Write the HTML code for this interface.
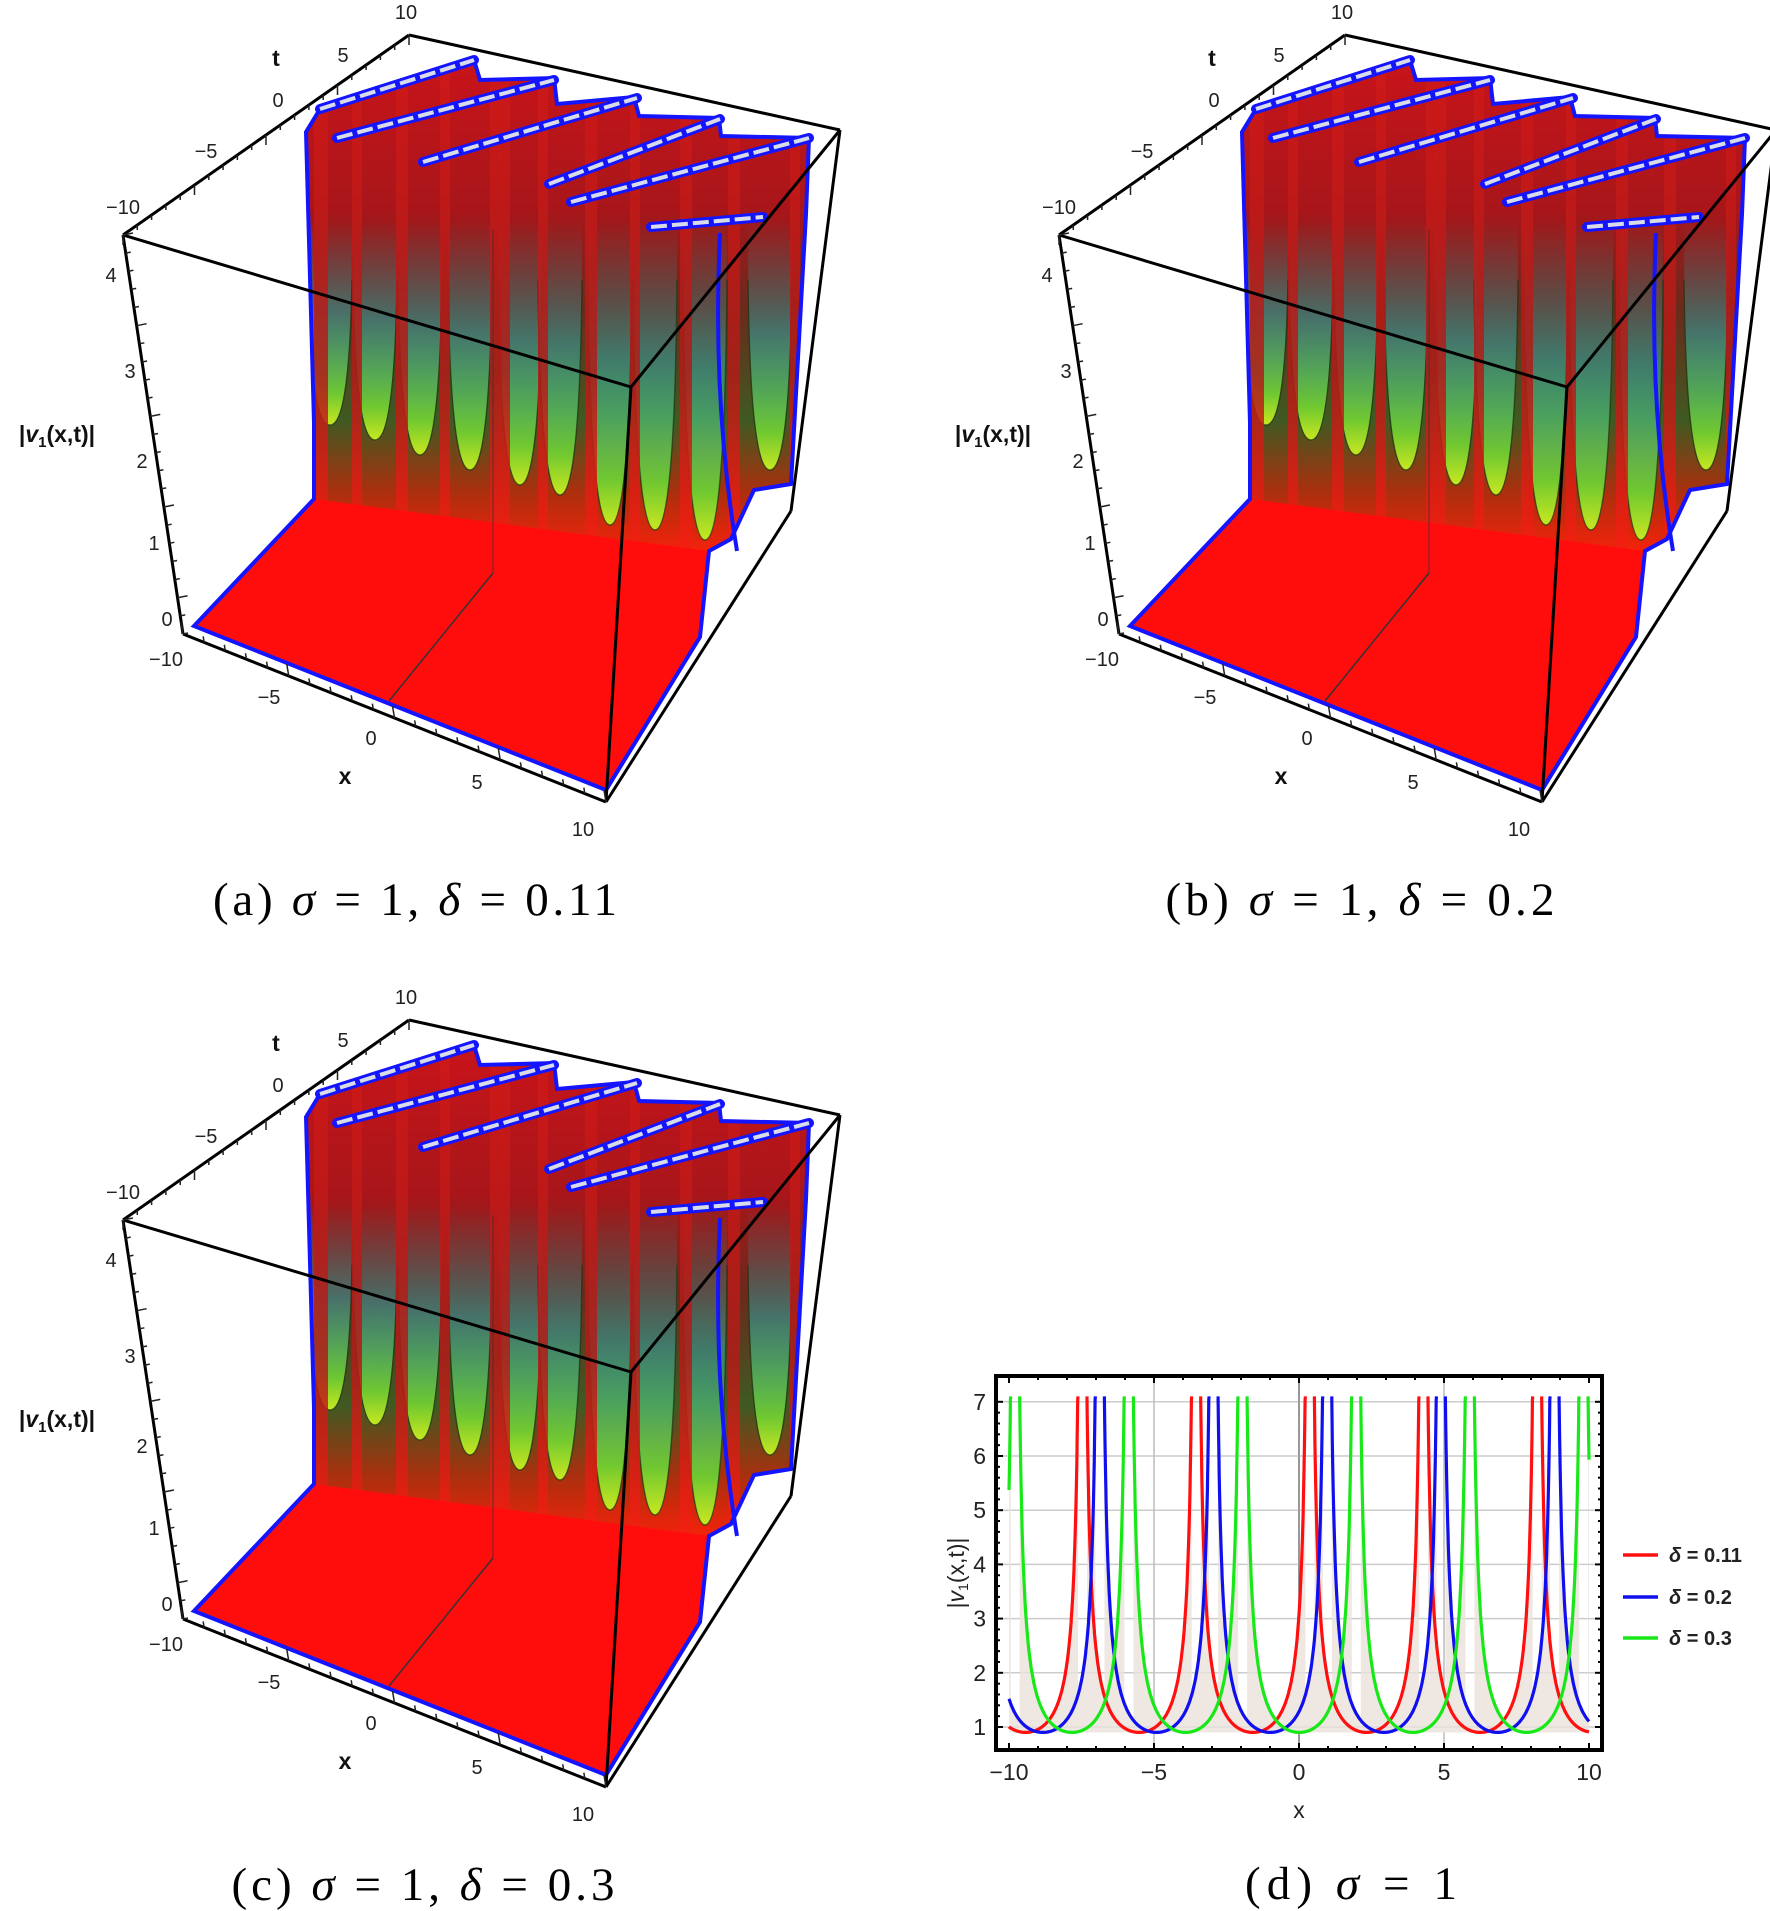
<!DOCTYPE html>
<html><head><meta charset="utf-8"><style>
html,body{margin:0;padding:0;background:#fff;}
svg{display:block;}
.lab{font-family:"Liberation Sans",sans-serif;font-size:20px;fill:#222;}
.bl{font-family:"Liberation Sans",sans-serif;font-size:23px;font-weight:bold;fill:#111;}
.cap{font-family:"Liberation Serif",serif;font-size:47px;fill:#000;}
.dl{font-family:"Liberation Sans",sans-serif;font-size:23px;fill:#222;}
.lg{font-family:"Liberation Sans",sans-serif;font-size:20px;font-weight:bold;fill:#222;}
</style></head><body>
<svg id="s" xmlns="http://www.w3.org/2000/svg" width="1770" height="1911" viewBox="0 0 1770 1911">
<defs>
<linearGradient id="wall" gradientUnits="userSpaceOnUse" x1="0" y1="60" x2="0" y2="560">
<stop offset="0" stop-color="#c8141a"/><stop offset="0.3" stop-color="#a8161a"/>
<stop offset="0.5" stop-color="#6a2a1c"/><stop offset="0.72" stop-color="#3f5a22"/>
<stop offset="0.86" stop-color="#a8300e"/><stop offset="1" stop-color="#ff200a"/>
</linearGradient>
<linearGradient id="ug" x1="0" y1="0" x2="0" y2="1">
<stop offset="0" stop-color="#3a8a9a" stop-opacity="0"/><stop offset="0.45" stop-color="#30a8a8" stop-opacity="0.55"/>
<stop offset="0.85" stop-color="#70c830"/><stop offset="1" stop-color="#c8e820"/>
</linearGradient>
<linearGradient id="pg" x1="0" y1="0" x2="0" y2="1">
<stop offset="0" stop-color="#d01818"/><stop offset="0.6" stop-color="#b01c18"/><stop offset="1" stop-color="#ff2010"/>
</linearGradient>
</defs>
</svg>
<script>
var S=document.getElementById('s'),NS='http://www.w3.org/2000/svg',out='';
function P(a){return a.map(function(p){return p[0]+','+p[1]}).join(' ');}
function panel(dx,dy,cap,cx,cw){
 var g='<g transform="translate('+dx+','+dy+')">';
 var A=[123,235],BT=[409,35],TR=[840,130],FT=[631,387],BF=[606,802],BL=[183,634],BR=[791,511];
 var mass=[[306,132],[320,109],[474,60],[480,80],[554,78],[557,104],[634,97],[639,116],[719,118],[721,136],[809,138],[806,214],[791,484],[754,490],[731,539],[709,551],[700,637],[606,790],[194,626],[314,499],[314,423]];
 g+='<clipPath id="c'+dx+'_'+dy+'"><polygon points="'+P(mass)+'"/></clipPath>';
 g+='<polygon points="'+P(mass)+'" fill="url(#wall)"/>';
 g+='<g clip-path="url(#c'+dx+'_'+dy+')">';
 [[330,425],[375,440],[420,455],[470,470],[520,485],[560,495],[610,525],[655,530],[705,540],[770,470]].forEach(function(u){
  var x=u[0],b=u[1];
  g+='<path d="M'+(x-22)+',220 Q'+(x-22)+','+b+' '+x+','+b+' Q'+(x+22)+','+b+' '+(x+22)+',220 Z" fill="url(#ug)"/>';
  g+='<path d="M'+(x-22)+',280 Q'+(x-20)+','+b+' '+x+','+b+' Q'+(x+20)+','+b+' '+(x+22)+',280" fill="none" stroke="#1e3a14" stroke-width="1.5" opacity="0.7"/>';
 });
 [[314,14],[352,10],[396,12],[440,10],[490,12],[500,10],[538,10],[585,12],[630,10],[680,12],[728,12],[790,10]].forEach(function(p){
  g+='<rect x="'+p[0]+'" y="60" width="'+p[1]+'" height="520" fill="url(#pg)" opacity="0.85"/>';
 });
 g+='</g>';
 g+='<polygon points="194,626 314,499 709,551 700,637 606,790" fill="#ff0d0d"/>';
 g+='<line x1="493" y1="573" x2="389" y2="701" stroke="#333" stroke-width="1.5"/>';
 g+='<line x1="493" y1="573" x2="493" y2="230" stroke="#333" stroke-width="1.2" opacity="0.6"/>';
 g+='<polygon points="'+P(mass)+'" fill="none" stroke="#1414ff" stroke-width="4"/>';
 [[[320,109],[474,60]],[[337,138],[554,80]],[[423,162],[637,98]],[[549,184],[720,119]],[[571,202],[809,138]],[[651,227],[763,217]]].forEach(function(r){
  g+='<line x1="'+r[0][0]+'" y1="'+r[0][1]+'" x2="'+r[1][0]+'" y2="'+r[1][1]+'" stroke="#1414ff" stroke-width="10" stroke-linecap="round"/>';
  g+='<line x1="'+r[0][0]+'" y1="'+r[0][1]+'" x2="'+r[1][0]+'" y2="'+r[1][1]+'" stroke="#d8dce8" stroke-width="4" stroke-dasharray="16 5"/>';
 });
 g+='<path d="M720,233 Q712,400 737,551" fill="none" stroke="#1414ff" stroke-width="4"/>';
 var L=function(a,b,w){return '<line x1="'+a[0]+'" y1="'+a[1]+'" x2="'+b[0]+'" y2="'+b[1]+'" stroke="#000" stroke-width="'+(w||3)+'"/>';};
 g+=L(A,BT)+L(BT,TR)+L(TR,FT)+L(A,FT)+L(FT,BF)+L(TR,BR)+L(BR,BF)+L(A,BL)+L(BL,BF);
 function ticks(a,b,n,ox,oy){var s='';for(var i=0;i<=n;i++){var t=i/n,x=a[0]+(b[0]-a[0])*t,y=a[1]+(b[1]-a[1])*t,l=(i%5==0)?2:1;
  s+='<line x1="'+x+'" y1="'+y+'" x2="'+(x+ox*l)+'" y2="'+(y+oy*l)+'" stroke="#222" stroke-width="1.5"/>';}return s;}
 g+=ticks(A,BT,20,0,5)+ticks(A,BL,22,5,-1)+ticks(BL,BF,20,-1,-6);
 g+='<g class="lab" text-anchor="middle">';
 [['-10',123,214],['-5',206,158],['0',278,107],['5',343,62],['10',406,19],['4',111,282],['3',130,378],['2',142,468],['1',154,550],['0',167,626],['-10',166,666],['-5',269,704],['0',371,745],['5',477,789],['10',583,836]].forEach(function(t){
  g+='<text x="'+t[1]+'" y="'+t[2]+'">'+t[0].replace('-','\u2212')+'</text>';});
 g+='</g>';
 g+='<text class="bl" x="276" y="66" text-anchor="middle">t</text>';
 g+='<text class="bl" x="345" y="784" text-anchor="middle">x</text>';
 g+='<text class="bl" x="57" y="442" text-anchor="middle">|<tspan font-style="italic">v</tspan><tspan font-size="15" dy="5">1</tspan><tspan dy="-5">(x,t)|</tspan></text>';
 g+='</g>';
 g+='<text class="cap" x="'+(cx-cw/2)+'" y="'+(dy+915)+'" textLength="'+cw+'" lengthAdjust="spacing">'+cap+'</text>';
 return g;
}
out+=panel(0,0,'(a) <tspan font-style="italic">σ</tspan> = 1,  <tspan font-style="italic">δ</tspan> = 0.11',415,404);
out+=panel(936,0,'(b) <tspan font-style="italic">σ</tspan> = 1,  <tspan font-style="italic">δ</tspan> = 0.2',1360,389);
out+=panel(0,985,'(c) <tspan font-style="italic">σ</tspan> = 1,  <tspan font-style="italic">δ</tspan> = 0.3',423,383);
function X(x){return 1009+(x+10)*29;}
function Y(y){return 1727-(y-1)*54.2;}
var d='';
d+='<rect x="996" y="1376" width="606" height="374" fill="#fff"/>';
for(var k=1;k<=7;k++)d+='<line x1="996" x2="1602" y1="'+Y(k)+'" y2="'+Y(k)+'" stroke="#ccc" stroke-width="1.5"/>';
[-5,5].forEach(function(v){d+='<line y1="1376" y2="1750" x1="'+X(v)+'" x2="'+X(v)+'" stroke="#bbb" stroke-width="1.5"/>';});
d+='<line y1="1376" y2="1750" x1="'+X(0)+'" x2="'+X(0)+'" stroke="#777" stroke-width="1.5"/>';
var ser=[['#ff1010',-7.47],['#1010ee',-6.87],['#18e818',-5.87]];
var fills='',lines='';
ser.forEach(function(s){
 var segs=[],cur=null;
 for(var x=-10;x<=10.0001;x+=0.01){
  var v=Math.abs(Math.sin(Math.PI*(x-s[1])/3.92)),y=v<1e-6?99:0.9/v;
  if(y>7.1){if(cur){cur.push([X(x),Y(7.1)]);segs.push(cur);cur=null;}}
  else{if(!cur){cur=[[X(x),Y(7.1)]];if(x<-9.99)cur=[];}cur.push([X(x),Y(y)]);}
 }
 if(cur)segs.push(cur);
 segs.forEach(function(sg){
  var pts=sg.map(function(p){return p[0].toFixed(1)+','+p[1].toFixed(1)}).join(' ');
  fills+='<polygon points="'+sg[0][0].toFixed(1)+','+Y(0.9)+' '+pts+' '+sg[sg.length-1][0].toFixed(1)+','+Y(0.9)+'" fill="#efe8e2"/>';
  lines+='<polyline points="'+pts+'" fill="none" stroke="'+s[0]+'" stroke-width="3.2"/>';
 });
});
d+=fills;
for(var k=1;k<=7;k++)d+='<line x1="996" x2="1602" y1="'+Y(k)+'" y2="'+Y(k)+'" stroke="#ccc" stroke-width="1" opacity="0.5"/>';
d+=lines;
d+='<rect x="996" y="1376" width="606" height="374" fill="none" stroke="#000" stroke-width="4"/>';
for(var x=-10;x<=10;x+=1){var l=(x%5==0)?7:4;d+='<line x1="'+X(x)+'" x2="'+X(x)+'" y1="1750" y2="'+(1750-l)+'" stroke="#000" stroke-width="2"/><line x1="'+X(x)+'" x2="'+X(x)+'" y1="1376" y2="'+(1376+l)+'" stroke="#000" stroke-width="2"/>';}
for(var y=1;y<=7.01;y+=0.2){var yy=Math.round(y*10)/10,l=(Math.abs(yy-Math.round(yy))<0.01)?7:4;d+='<line x1="996" x2="'+(996+l)+'" y1="'+Y(yy)+'" y2="'+Y(yy)+'" stroke="#000" stroke-width="2"/><line x1="1602" x2="'+(1602-l)+'" y1="'+Y(yy)+'" y2="'+Y(yy)+'" stroke="#000" stroke-width="2"/>';}
for(var k=1;k<=7;k++)d+='<text class="dl" x="986" y="'+(Y(k)+8)+'" text-anchor="end">'+k+'</text>';
[-10,-5,0,5,10].forEach(function(v){d+='<text class="dl" x="'+X(v)+'" y="1780" text-anchor="middle">'+(v<0?'\u2212'+(-v):v)+'</text>';});
d+='<text class="dl" x="1299" y="1818" text-anchor="middle">x</text>';
d+='<text class="dl" font-size="21" transform="translate(964,1573) rotate(-90)" text-anchor="middle">|<tspan font-style="italic">v</tspan><tspan font-size="14" dy="4">1</tspan><tspan dy="-4">(x,t)|</tspan></text>';
[['#ff1010','0.11',1555],['#1010ee','0.2',1597],['#18e818','0.3',1638]].forEach(function(l){
 d+='<line x1="1623" x2="1658" y1="'+l[2]+'" y2="'+l[2]+'" stroke="'+l[0]+'" stroke-width="3.5"/>';
 d+='<text class="lg" x="1669" y="'+(l[2]+7)+'"><tspan font-style="italic">δ</tspan> = '+l[1]+'</text>';
});
d+='<text class="cap" x="1245" y="1899" textLength="212" lengthAdjust="spacing">(d)  <tspan font-style="italic">σ</tspan> = 1</text>';
out+=d;
S.insertAdjacentHTML('beforeend',out);
</script>
</body></html>
